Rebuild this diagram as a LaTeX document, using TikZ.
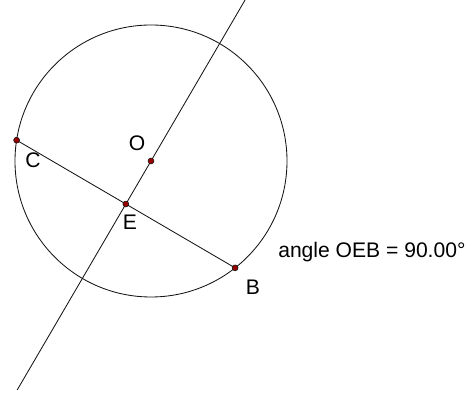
\documentclass[tikz,border=0pt]{standalone}
\usepackage{fontspec}
\setmainfont{Liberation Sans}
\usepackage{tikz}
\usetikzlibrary{calc}
\definecolor{pointred}{RGB}{150,0,0}
\definecolor{inkgrey}{RGB}{20,20,20}

\begin{document}
\begin{tikzpicture}[font=\fontsize{15}{18}\selectfont,
    geo/.style={draw=inkgrey, line width=0.6pt},
    dot/.style={circle, fill=pointred, draw=inkgrey, line width=0.4pt,
      inner sep=0pt, minimum size=4.2pt}]
  \useasboundingbox (0,0) rectangle (11.825,9.875);
  % Circle and its points
  \coordinate (O) at (3.775,5.85);
  \coordinate (C) at ($(O)+(171.2:3.4)$);
  \coordinate (B) at ($(O)+(-51.8:3.4)$);
  \coordinate (E) at ($(C)!0.5!(B)$);
  \draw[geo] (O) circle (3.4);
  % Line through O and E
  \coordinate (top) at ($(O)!-3.74!(E)$);
  \coordinate (bottom) at ($(O)!5.32!(E)$);
  \draw[geo] (top) -- (bottom);
  % Chord
  \draw[geo] (C) -- (B);
  \node[dot] (dO) at (O) {};
  \node[dot] (dC) at (C) {};
  \node[dot] (dE) at (E) {};
  \node[dot] (dB) at (B) {};
  % Labels
  \node (lO) at (3.425,6.3) {O};
  \node (lC) at (0.825,5.875) {C};
  \node (lE) at (3.25,4.325) {E};
  \node (lB) at (6.325,2.7) {B};
  \node[anchor=west, inner sep=0pt] (angle) at (6.95,3.575)
    {angle OEB = 90.00°};
\end{tikzpicture}
\end{document}
